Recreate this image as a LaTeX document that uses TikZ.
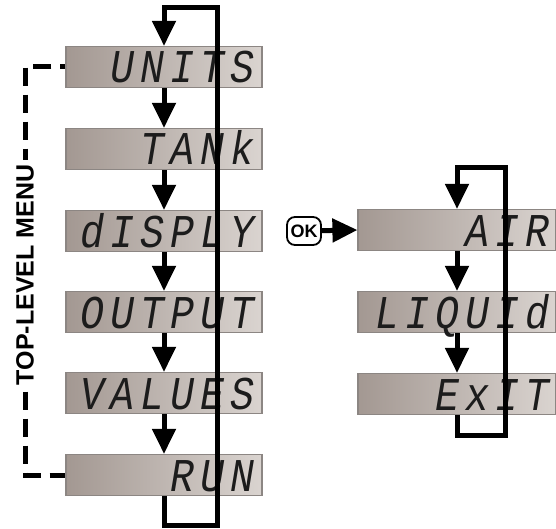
\documentclass[tikz,border=0pt]{standalone}
\usepackage{fontspec}
\setsansfont{Liberation Sans}
\newfontfamily\lcdfont{Liberation Mono}[FakeStretch=0.85, LetterSpace=13]
\usepackage{xcolor}
\usepackage{tikz}
\usetikzlibrary{arrows.meta,positioning,calc}

\definecolor{lcddark}{HTML}{A39892}
\definecolor{lcdlight}{HTML}{DAD4D0}
\definecolor{lcdedge}{HTML}{8C8683}
\definecolor{lcdtext}{HTML}{1C1C1C}

\begin{document}
\begin{tikzpicture}[x=1pt,y=-1pt,
		lcd/.style={draw=lcdedge, line width=1.2pt, left color=lcddark, right color=lcdlight,
			minimum width=196pt, minimum height=41pt, text width=182pt, align=right,
			inner xsep=7pt, inner ysep=4.5pt, text height=32pt, text depth=0pt,
			font=\lcdfont\itshape\fontsize{47}{47}\selectfont, text=lcdtext},
		lcdr/.style={lcd, minimum width=198pt, text width=186pt, inner xsep=6pt},
		flow/.style={line width=5pt, line join=miter, -{Triangle[width=23pt,length=25pt]}},
		menuline/.style={line width=5pt, dash pattern=on 18pt off 9pt, dash phase=13pt},
		menulabel/.style={fill=white, rotate=90, inner sep=5pt, font=\sffamily\bfseries\fontsize{25}{25}\selectfont},
		okbtn/.style={draw, line width=1.8pt, rounded corners=8pt, minimum width=34pt, minimum height=28pt,
			inner sep=0pt, font=\sffamily\bfseries\fontsize{18}{18}\selectfont}]
		\useasboundingbox (0,0) rectangle (556,529);

		% top-level menu
		\node[lcd] (units) at (164,67) {UNITS};
		\node[lcd] (tank) at (164,149) {TANk};
		\node[lcd] (disply) at (164,231) {dISPLY};
		\node[lcd] (output) at (164,312) {OUTPUT};
		\node[lcd] (values) at (164,393) {VALUES};
		\node[lcd] (run) at (164,475) {RUN};

		\draw[flow] (units) -- (tank);
		\draw[flow] (tank) -- (disply);
		\draw[flow] (disply) -- (output);
		\draw[flow] (output) -- (values);
		\draw[flow] (values) -- (run);

		\coordinate (lbot) at (217,525);
		\coordinate (ltop) at (217,8);
		\draw[flow] (run.south) |- (lbot) -- (ltop) -| (units.north);

		% dashed bracket with label
		\coordinate (mtop) at (25,67);
		\coordinate (mbot) at (25,475);
		\draw[menuline] (units.west) -- (mtop) -- (mbot) -- (run.west);
		\node[menulabel] (menu) at (25,275) {TOP-LEVEL MENU};

		% units sub-menu
		\node[lcdr] (air) at (457,230) {AIR};
		\node[lcdr] (liquid) at (457,312) {LIQUId};
		\node[lcdr] (exit) at (457,394) {ExIT};

		\draw[flow] (air) -- (liquid);
		\draw[flow] (liquid) -- (exit);

		\coordinate (rbot) at (505,435);
		\coordinate (rtop) at (505,168);
		\draw[flow] (exit.south) |- (rbot) -- (rtop) -| (air.north);

		\node[okbtn] (ok) at (304,231) {OK};
		\draw[flow] (ok) -- (air.west);
	\end{tikzpicture}
\end{document}
